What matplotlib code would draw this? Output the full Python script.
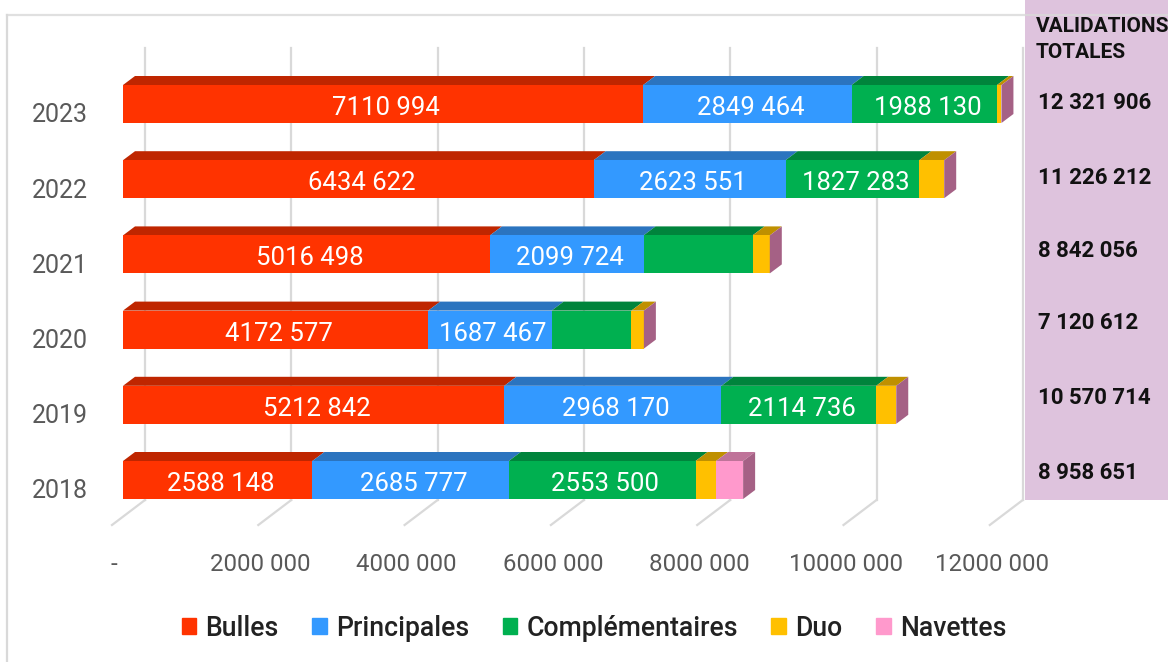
import matplotlib
matplotlib.use('Agg')
import matplotlib.pyplot as plt
from matplotlib.patches import Rectangle
from matplotlib.lines import Line2D

plt.rcParams['font.family'] = ['Roboto', 'DejaVu Sans']

years = ['2018', '2019', '2020', '2021', '2022', '2023']
bulles = [2588148, 5212842, 4172577, 5016498, 6434622, 7110994]
principales = [2685777, 2968170, 1687467, 2099724, 2623551, 2849464]
complementaires = [2553500, 2114736, 1090000, 1490000, 1827283, 1988130]
duo = [280000, 274966, 170568, 235834, 340756, 60000]
navettes = [370000, 0, 0, 0, 0, 0]
totals = ['8 958 651', '10 570 714', '7 120 612', '8 842 056', '11 226 212', '12 321 906']
unlabelled = [(2, 2), (3, 2)]  # complementaires 2020 and 2021 have no label

names = ['Bulles', 'Principales', 'Complémentaires', 'Duo', 'Navettes']
series = [bulles, principales, complementaires, duo, navettes]
colors = ['#FF3300', '#3399FF', '#00B050', '#FFC000', '#FF99CC']
top_colors = ['#BF2600', '#2B74BF', '#00843C', '#BF9000', '#BF7399']
side_color = '#A56185'
grid_color = '#D9D9D9'

xticks = [0, 2000000, 4000000, 6000000, 8000000, 10000000, 12000000]
xticklabels = ['-', '2000 000', '4000 000', '6000 000', '8000 000', '10000 000', '12000 000']

W, H = 1168, 662
px = 7.315e-5     # pixels per unit
row = 75.2        # pixels per row
x0_px, y0_px = 123, 480  # where value 0 and the 2018 row sit
left_px, right_px, top_px, bottom_px = 100, 1168, 0, 532


def to_x(n):
    return n / px


def to_y(n):
    return n / row


fig = plt.figure(figsize=(W / 100, H / 100), dpi=100)
ax = fig.add_axes([left_px / W, 1 - bottom_px / H, (right_px - left_px) / W, (bottom_px - top_px) / H])
ax.set_xlim(to_x(left_px - x0_px), to_x(right_px - x0_px))
ax.set_ylim(to_y(y0_px - bottom_px), to_y(y0_px - top_px))
ax.patch.set_visible(False)
for s in ax.spines.values():
    s.set_visible(False)

# back wall and floor lines
for t in xticks:
    wall = t + to_x(22)
    ax.plot([wall, wall], [to_y(y0_px - 500), to_y(y0_px - 48)], color=grid_color, lw=1.6, zorder=1)
    ax.plot([wall, t - to_x(11)], [to_y(y0_px - 500), to_y(y0_px - 525)], color=grid_color, lw=1.6, zorder=1)

bar_h = to_y(38)
dx = to_x(12)
dy = to_y(9)

for i in range(len(years)):
    left = 0
    top = i + bar_h / 2
    for j, vals in enumerate(series):
        v = vals[i]
        if v == 0:
            continue
        ax.barh(i, v, left=left, height=bar_h, color=colors[j], zorder=3)
        ax.fill([left, left + v, left + v + dx, left + dx], [top, top, top + dy, top + dy],
                color=top_colors[j], lw=0, zorder=2)
        if j < 3 and (i, j) not in unlabelled:
            s = str(v)
            ax.text(left + v / 2 + to_x(3), i - to_y(4), s[:-3] + ' ' + s[-3:], color='white', fontsize=18.5,
                    ha='center', va='center', zorder=4)
        left += v
    # end cap
    ax.fill([left, left + dx, left + dx, left],
            [i - bar_h / 2, i - bar_h / 2 + dy, top + dy, top],
            color=side_color, lw=0, zorder=3)

ax.set_xticks([t - to_x(9) for t in xticks])
ax.set_xticklabels(xticklabels, fontsize=17.3, color='#595959')
ax.tick_params(axis='x', length=0, pad=15)
ax.set_yticks([i - to_y(9) for i in range(len(years))])
ax.set_yticklabels(years, fontsize=18, color='#595959')
ax.tick_params(axis='y', length=0, pad=9)

# frame around the chart and the totals panel
fig.add_artist(Line2D([7 / W, 7 / W], [0, 1 - 15 / H], color='#D9D9D9', lw=1.6))
fig.add_artist(Rectangle((1025 / W, 1 - 500 / H), 143 / W, 500 / H, color='#DEC3DD', lw=0, transform=fig.transFigure))
fig.add_artist(Line2D([7 / W, 1], [1 - 15 / H, 1 - 15 / H], color='#D9D9D9', lw=1.6, alpha=0.8))

fig.text(1036 / W, 1 - 27 / H, 'VALIDATIONS', fontsize=15, fontweight='bold', color='#111111', va='center')
fig.text(1036 / W, 1 - 53 / H, 'TOTALES', fontsize=15, fontweight='bold', color='#111111', va='center')
total_y_px = [473, 398, 323, 251, 178, 103]
for label, y in zip(totals, total_y_px):
    fig.text(1038 / W, 1 - y / H, label, fontsize=16, fontweight='bold', color='#111111', va='center')

handles = [Rectangle((0, 0), 1, 1, color=c) for c in colors]
fig.legend(handles, names, ncol=5, frameon=False, prop={'size': 19.2, 'weight': 'medium'}, loc='center',
           bbox_to_anchor=(594 / W, 1 - 628 / H), handlelength=0.55, handleheight=0.55,
           handletextpad=0.35, columnspacing=1.25, labelcolor='#222222')

plt.savefig('out.png', dpi=100)
plt.close()
